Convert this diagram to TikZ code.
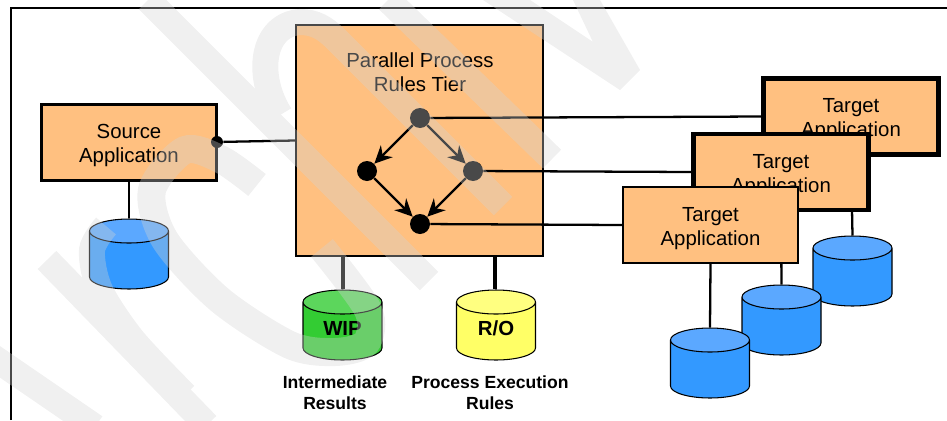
\documentclass[tikz,border=0pt]{standalone}
\usepackage{fontspec}
\setmainfont{Liberation Sans}
\usetikzlibrary{arrows.meta,shapes.geometric}

\tikzset{
  appbox/.style={draw=black,fill=appfill,line width=1.3pt,minimum width=3.5cm,minimum height=1.52cm,align=center,font=\fontsize{11.6}{13.6}\selectfont,inner sep=0pt,text height=25.4pt},
  thickbox/.style={appbox,line width=2.4pt},
  cyl/.style={cylinder,shape border rotate=90,shape aspect=0.48,anchor=shape center,draw=black,line width=0.6pt,minimum width=1.58cm,minimum height=1.4cm,inner sep=0pt,text width=1cm,align=center,text height=8pt,text depth=3.4pt,cylinder uses custom fill,font=\bfseries\fontsize{11.6}{13.6}\selectfont},
  bluecyl/.style={cyl,cylinder body fill=cylblue,cylinder end fill=cylbluetop},
  dot/.style={circle,fill=black,inner sep=0pt,minimum size=0.4cm},
  link/.style={line width=1.3pt},
  flow/.style={line width=1.3pt,-{Stealth[length=10pt,width=9.5pt]}},
  caption/.style={align=center,font=\bfseries\fontsize{10}{12}\selectfont},
  wmark/.style={line width=0.52cm,draw=wmgray},
}
\definecolor{appfill}{HTML}{FFC080}
\definecolor{cylblue}{HTML}{3399FF}
\definecolor{cylbluetop}{HTML}{5BA8FF}
\definecolor{cylgreen}{HTML}{33CC33}
\definecolor{cylgreentop}{HTML}{5CD65C}
\definecolor{cylyellow}{HTML}{FFFF66}
\definecolor{cylyellowtop}{HTML}{FFFF80}
\definecolor{wmgray}{HTML}{D3D3D3}

\begin{document}
\begin{tikzpicture}[x=0.02cm,y=-0.02cm]
\useasboundingbox (0,0) rectangle (947,420);
\draw[line width=0.8pt] (11,420)-- (11,8)-- (947,8);
% source side
\node[appbox] (source) at (129,142.5) {Source\\Application};
\node[bluecyl] (srcdb) at (129,254) {\phantom{X}};
\node[circle,fill=black,inner sep=0pt,minimum size=0.24cm] (srcdot) at (217,142) {};
\draw[link] (source.south)-- (srcdb.top);
% middle tier
\node[draw=black,fill=appfill,line width=1.3pt,minimum width=4.94cm,minimum height=4.62cm,inner sep=0pt] (ptier) at (419.5,140.5) {};
\node[align=center,font=\fontsize{11.6}{13.6}\selectfont] (ptitle) at (420,72.5) {Parallel Process\\Rules Tier};
\draw[link] (srcdot)-- (ptier.west);
\node[dot] (n1) at (420,118) {};
\node[dot] (n2) at (367,171) {};
\node[dot] (n3) at (473,171) {};
\node[dot] (n4) at (420,224) {};
\draw[flow] (n1)-- (n2);
\draw[flow] (n1)-- (n3);
\draw[flow] (n2)-- (n4);
\draw[flow] (n3)-- (n4);
\node[cyl,cylinder body fill=cylgreen,cylinder end fill=cylgreentop] (wip) at (342.5,325) {WIP};
\node[cyl,cylinder body fill=cylyellow,cylinder end fill=cylyellowtop] (ro) at (496,325) {R/O};
\coordinate (wiptop) at (343,256);
\coordinate (rotop) at (495,256);
\draw[line width=1.8pt] (wiptop)-- (wiptop |- wip.top);
\draw[line width=1.8pt] (rotop)-- (rotop |- ro.top);
\node[caption] (wiptext) at (335,393) {Intermediate\\Results};
\node[caption] (rotext) at (490,393) {Process Execution\\Rules};
% targets, back to front
\node[bluecyl] (db3) at (852.5,271) {\phantom{X}};
\node[thickbox] (t3) at (851,116.5) {Target\\Application};
\draw[link] (t3.south)-- (db3.top);
\draw[link] (n1)-- (t3.west);
\node[bluecyl] (db2) at (781.5,320) {\phantom{X}};
\node[thickbox] (t2) at (781,172) {Target\\Application};
\draw[link] (t2.south)-- (db2.top);
\draw[link] (n3)-- (t2.west);
\node[bluecyl] (db1) at (710,363) {\phantom{X}};
\node[appbox] (t1) at (710.5,225) {Target\\Application};
\draw[link] (t1.south)-- (db1.top);
\draw[link] (n4)-- (t1.west);
% watermark strokes
\begin{scope}[transparency group,opacity=0.35]
\clip (0,0) rectangle (947,420);
\draw[wmark] (148,0)-- (429,281);
\draw[wmark] (388,0)-- (552,159);
\draw[wmark] (280,115) .. controls (255,75) and (262,25) .. (300,22) .. controls (315,22) and (325,28) .. (336,39)-- (503,206);
\fill[wmgray] (483,0)-- (620,90)-- (640,70)-- (600,0)-- (573,0)-- (593,42)-- (530,0)-- cycle;
\draw[wmark,line width=0.56cm] plot[smooth] coordinates {(257,185) (222,160) (185,150) (152,190) (165,240) (220,300) (290,345) (335,352) (366,343) (368,310) (322,248)};
\draw[wmark] (47,260)-- (207,425);
\draw[wmark] plot[smooth] coordinates {(106,226) (92,250) (100,290) (133,340) (185,395)};
\draw[wmark] (-10,355)-- (95,427);
\end{scope}
\end{tikzpicture}
\end{document}
